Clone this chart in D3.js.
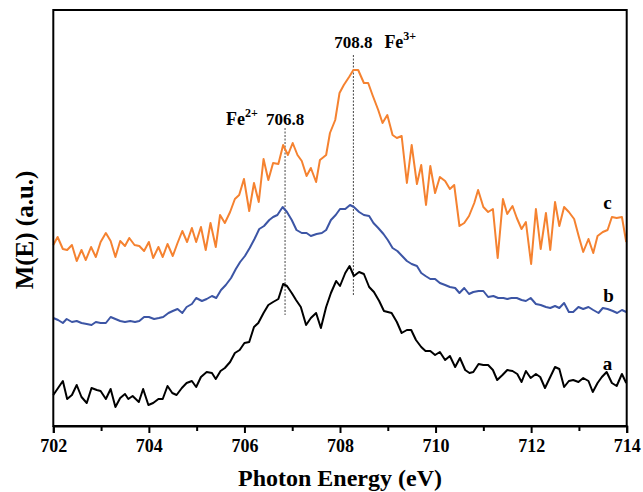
<!DOCTYPE html>
<html>
<head>
<meta charset="utf-8">
<script src="https://cdn.jsdelivr.net/npm/d3@7"></script>
<style>
  html, body { margin: 0; padding: 0; background: #fff; }
  svg text { font-family: "Liberation Serif", "Times New Roman", serif; font-weight: bold; fill: #000; }
</style>
</head>
<body>
<svg id="chart" width="643" height="492"></svg>
<script>
// ---- data ----
const xTicks = [702, 704, 706, 708, 710, 712, 714];
const xMinorTicks = [703, 705, 707, 709, 711, 713];
const seriesNames = ["a", "b", "c"];
const seriesColors = ["#000000", "#3c55a5", "#f58230"];

// series a (black)
const energyA = [702.00,702.20,702.29,702.39,702.49,702.59,702.70,702.80,702.91,702.99,703.10,703.20,703.30,703.40,703.50,703.57,703.66,703.79,703.88,703.99,704.09,704.20,704.29,704.39,704.49,704.58,704.69,704.79,704.90,704.99,705.09,705.21,705.32,705.40,705.50,705.59,705.70,705.80,705.90,706.00,706.10,706.20,706.29,706.40,706.50,706.60,706.71,706.81,706.89,706.99,707.08,707.18,707.29,707.39,707.50,707.60,707.71,707.81,707.92,708.00,708.11,708.20,708.29,708.40,708.50,708.61,708.71,708.82,708.92,709.08,709.19,709.29,709.40,709.49,709.59,709.70,709.79,709.89,709.99,710.09,710.20,710.30,710.41,710.51,710.62,710.71,710.79,710.90,711.00,711.10,711.20,711.29,711.40,711.50,711.61,711.71,711.80,711.89,711.99,712.10,712.19,712.29,712.40,712.50,712.59,712.69,712.79,712.88,712.99,713.09,713.20,713.29,713.39,713.48,713.58,713.69,713.79,713.90,713.99];
const valuesA = [0.31,0.45,0.27,0.31,0.41,0.29,0.23,0.38,0.36,0.35,0.27,0.37,0.19,0.28,0.32,0.27,0.30,0.24,0.37,0.21,0.23,0.27,0.27,0.40,0.33,0.31,0.38,0.43,0.45,0.39,0.49,0.54,0.53,0.47,0.55,0.58,0.64,0.73,0.76,0.83,0.84,0.99,1.03,1.13,1.21,1.24,1.27,1.42,1.40,1.33,1.26,1.19,1.01,1.08,1.13,0.98,1.19,1.33,1.45,1.40,1.53,1.60,1.50,1.54,1.52,1.39,1.34,1.25,1.15,1.13,1.04,0.93,0.96,0.96,0.86,0.79,0.75,0.75,0.71,0.74,0.66,0.70,0.59,0.68,0.56,0.53,0.54,0.62,0.61,0.61,0.56,0.46,0.51,0.56,0.55,0.52,0.44,0.55,0.48,0.52,0.49,0.38,0.49,0.59,0.57,0.39,0.45,0.46,0.44,0.48,0.45,0.34,0.43,0.49,0.54,0.43,0.40,0.52,0.43];

// series b (blue)
const energyB = [702.00,702.10,702.20,702.28,702.39,702.49,702.59,702.70,702.80,702.89,702.99,703.10,703.20,703.30,703.40,703.50,703.61,703.71,703.80,703.90,704.00,704.11,704.21,704.30,704.41,704.50,704.60,704.70,704.79,704.90,704.99,705.11,705.21,705.32,705.41,705.51,705.61,705.72,705.82,705.91,706.01,706.11,706.21,706.31,706.41,706.52,706.60,706.69,706.80,706.89,706.99,707.09,707.20,707.30,707.39,707.51,707.62,707.71,707.81,707.91,708.00,708.11,708.21,708.29,708.40,708.50,708.61,708.70,708.80,708.91,709.00,709.10,709.20,709.30,709.40,709.50,709.61,709.70,709.79,709.89,709.99,710.09,710.20,710.30,710.41,710.50,710.60,710.70,710.79,710.90,711.00,711.10,711.21,711.31,711.42,711.50,711.59,711.70,711.80,711.89,711.99,712.10,712.20,712.31,712.40,712.50,712.59,712.69,712.79,712.88,712.99,713.09,713.20,713.30,713.41,713.50,713.60,713.71,713.80,713.90,713.99];
const valuesB = [1.08,1.06,1.03,1.07,1.04,1.05,1.03,1.02,1.01,1.04,1.03,1.03,1.09,1.07,1.05,1.04,1.05,1.04,1.05,1.09,1.09,1.07,1.08,1.09,1.13,1.15,1.17,1.13,1.19,1.22,1.28,1.25,1.27,1.30,1.28,1.36,1.41,1.48,1.57,1.64,1.70,1.78,1.87,1.97,2.00,2.06,2.09,2.11,2.19,2.14,2.06,1.96,1.93,1.93,1.90,1.92,1.93,1.96,2.06,2.11,2.17,2.17,2.21,2.19,2.14,2.11,2.10,2.03,1.98,1.92,1.86,1.78,1.75,1.70,1.65,1.62,1.60,1.53,1.50,1.47,1.47,1.43,1.41,1.39,1.38,1.33,1.38,1.32,1.34,1.35,1.35,1.29,1.30,1.28,1.28,1.27,1.28,1.28,1.26,1.25,1.28,1.22,1.21,1.19,1.18,1.20,1.18,1.23,1.14,1.14,1.19,1.17,1.19,1.16,1.13,1.18,1.17,1.15,1.13,1.16,1.14];

// series c (orange)
const energyC = [702.00,702.09,702.20,702.29,702.39,702.49,702.59,702.68,702.79,702.89,702.99,703.10,703.20,703.30,703.40,703.50,703.59,703.70,703.80,703.90,704.00,704.09,704.20,704.29,704.39,704.50,704.60,704.70,704.80,704.90,704.99,705.09,705.19,705.29,705.40,705.49,705.59,705.70,705.80,705.89,705.99,706.10,706.20,706.30,706.40,706.50,706.60,706.71,706.81,706.91,707.01,707.11,707.20,707.30,707.39,707.50,707.58,707.71,707.79,707.90,707.99,708.08,708.19,708.28,708.38,708.50,708.59,708.68,708.80,708.89,708.99,709.10,709.19,709.29,709.40,709.50,709.61,709.70,709.80,709.89,709.99,710.09,710.20,710.30,710.39,710.50,710.60,710.70,710.81,710.89,711.00,711.10,711.20,711.30,711.41,711.50,711.61,711.70,711.80,711.89,712.00,712.10,712.20,712.31,712.40,712.50,712.59,712.69,712.79,712.90,713.00,713.09,713.20,713.30,713.39,713.50,713.60,713.69,713.79,713.90,713.99];
const valuesC = [1.81,1.89,1.77,1.76,1.81,1.65,1.76,1.66,1.79,1.69,1.84,1.93,1.85,1.69,1.85,1.80,1.88,1.81,1.80,1.75,1.84,1.68,1.79,1.69,1.82,1.70,1.83,1.95,1.84,1.98,1.84,1.99,1.76,2.03,1.79,2.11,2.03,2.14,2.27,2.31,2.47,2.15,2.43,2.24,2.67,2.46,2.63,2.62,2.81,2.71,2.83,2.71,2.65,2.50,2.58,2.44,2.66,2.71,2.93,3.06,3.33,3.41,3.49,3.56,3.56,3.43,3.43,3.31,3.16,3.03,3.11,2.91,2.88,2.90,2.43,2.81,2.42,2.61,2.21,2.60,2.33,2.49,2.45,2.37,2.41,2.00,2.03,2.10,2.23,2.36,2.19,2.14,2.17,1.68,2.27,2.12,2.20,2.08,1.97,2.04,1.62,2.17,1.77,2.13,1.76,2.24,2.00,2.19,2.14,2.07,1.89,1.74,1.87,1.73,1.90,1.94,1.96,2.09,2.08,2.09,1.84];

// peak markers
const peakEnergies = [706.85, 708.28];
const peakLabels = ["706.8", "708.8"];
const peakIons = ["Fe", "Fe"];
const peakCharges = ["2+", "3+"];
const peakLineTops = [2.98, 3.71];     // a.u. where dashed guide starts
const peakLineBottoms = [1.11, 1.30];  // a.u. where dashed guide ends

const yDomain = [0, 4.16];

// ---- chart ----
const svg = d3.select("#chart");
const W = 643, H = 492;
const margin = {left: 53.3, right: W - 626.7, top: 10, bottom: H - 426};
const x = d3.scaleLinear().domain([702, 714]).range([margin.left, W - margin.right]);
const y = d3.scaleLinear().domain(yDomain).range([H - margin.bottom, margin.top]);

const series = [
  {name: seriesNames[0], e: energyA, v: valuesA, color: seriesColors[0]},
  {name: seriesNames[1], e: energyB, v: valuesB, color: seriesColors[1]},
  {name: seriesNames[2], e: energyC, v: valuesC, color: seriesColors[2]}
];

// dashed guides (under curves)
peakEnergies.forEach((pe, i) => {
  svg.append("line")
    .attr("x1", x(pe)).attr("x2", x(pe))
    .attr("y1", y(peakLineTops[i])).attr("y2", y(peakLineBottoms[i]))
    .attr("stroke", "#444").attr("stroke-width", 1)
    .attr("stroke-dasharray", "2,1.5");
});

const line = d3.line().x(d => x(d[0])).y(d => y(d[1]));
series.forEach(s => {
  const pts = s.e.map((e, i) => [e, s.v[i]]);
  svg.append("path")
    .datum(pts)
    .attr("d", line)
    .attr("fill", "none")
    .attr("stroke", s.color)
    .attr("stroke-width", 2)
    .attr("stroke-linejoin", "round");
});

// frame
svg.append("rect")
  .attr("x", margin.left).attr("y", margin.top)
  .attr("width", W - margin.right - margin.left)
  .attr("height", H - margin.bottom - margin.top)
  .attr("fill", "none").attr("stroke", "#000").attr("stroke-width", 2);

// x axis
const xAxis = d3.axisBottom(x).tickValues(xTicks).tickFormat(d3.format("d")).tickSize(7).tickPadding(6);
const gx = svg.append("g").attr("transform", `translate(0,${H - margin.bottom})`).call(xAxis);
gx.select(".domain").attr("stroke-width", 2);
gx.selectAll(".tick line").attr("stroke-width", 2);
gx.selectAll(".tick text").style("font-family", "'Liberation Serif', serif").style("font-weight", "bold").style("font-size", "18px").attr("fill", "#000");
const gxm = svg.append("g").attr("transform", `translate(0,${H - margin.bottom})`)
  .call(d3.axisBottom(x).tickValues(xMinorTicks).tickFormat("").tickSize(5));
gxm.select(".domain").remove();
gxm.selectAll(".tick line").attr("stroke-width", 2);

// axis titles
svg.append("text")
  .attr("x", (margin.left + W - margin.right) / 2).attr("y", 486)
  .attr("text-anchor", "middle").style("font-size", "24px")
  .text("Photon Energy (eV)");
svg.append("text")
  .attr("transform", "translate(33,230) rotate(-90)")
  .attr("text-anchor", "middle").style("font-size", "25px")
  .text("M(E) (a.u.)");

// series labels
const labelPos = [[713.6, 0.56], [713.62, 1.24], [713.6, 2.17]];
series.forEach((s, i) => {
  svg.append("text")
    .attr("x", x(labelPos[i][0])).attr("y", y(labelPos[i][1]))
    .attr("text-anchor", "middle").style("font-size", "19px")
    .text(s.name);
});

// peak annotations
// 706.8 with Fe2+ to its left, 708.8 with Fe3+ to its right
const t1 = svg.append("text").attr("x", x(peakEnergies[0]) - 59).attr("y", 125).style("font-size", "18px");
t1.append("tspan").text(peakIons[0]);
t1.append("tspan").attr("dy", -8).style("font-size", "12px").text(peakCharges[0]);
svg.append("text").attr("x", x(peakEnergies[0])).attr("y", 125)
  .attr("text-anchor", "middle").style("font-size", "17px").text(peakLabels[0]);

svg.append("text").attr("x", x(peakEnergies[1])).attr("y", 48)
  .attr("text-anchor", "middle").style("font-size", "17px").text(peakLabels[1]);
const t2 = svg.append("text").attr("x", x(peakEnergies[1]) + 31).attr("y", 48).style("font-size", "18px");
t2.append("tspan").text(peakIons[1]);
t2.append("tspan").attr("dy", -8).style("font-size", "12px").text(peakCharges[1]);
</script>
</body>
</html>
